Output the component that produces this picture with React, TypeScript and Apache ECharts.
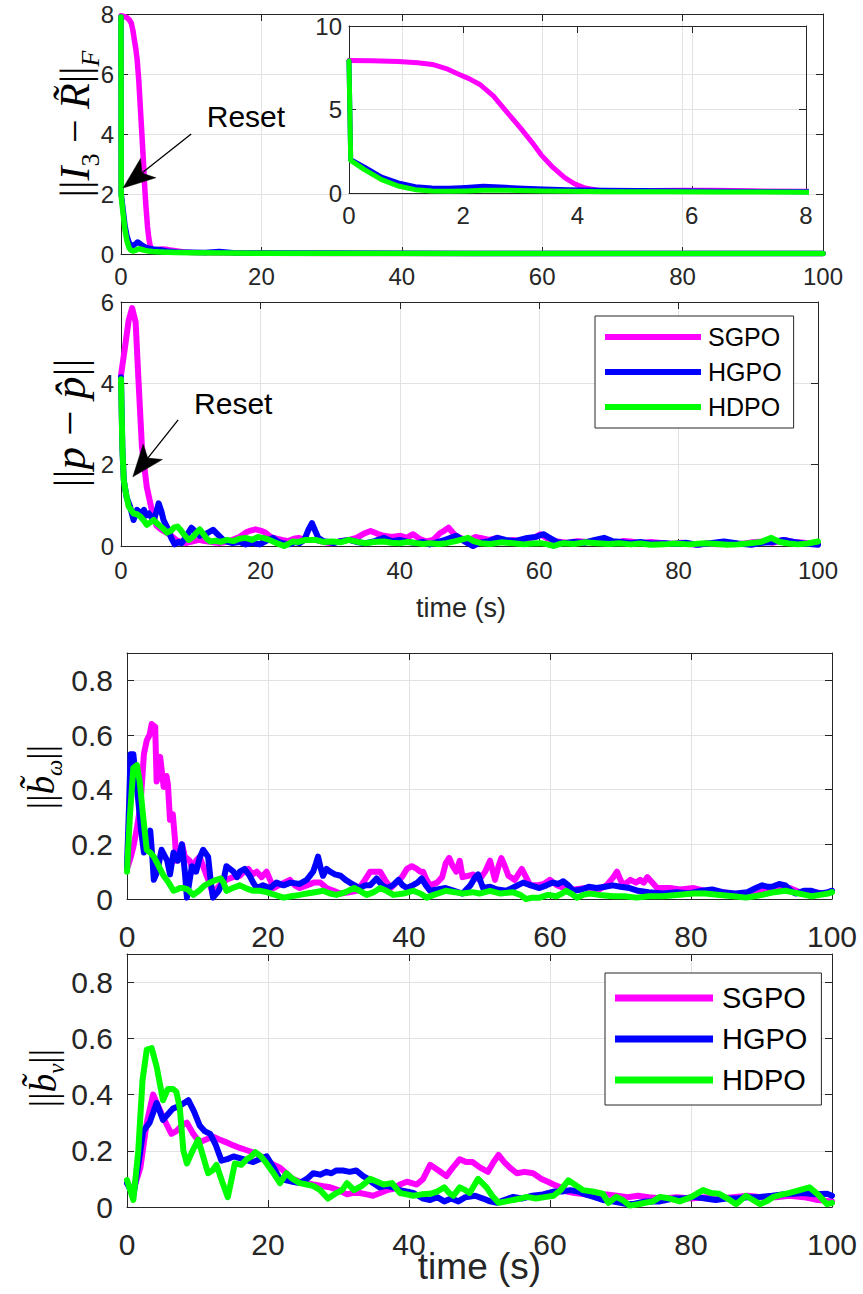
import React, { useEffect, useRef } from 'react';
import * as echarts from 'echarts';

type Pt = [number, number];

const FONT = "'Liberation Sans', Arial, Helvetica, sans-serif";
const SERIF = "'Liberation Serif', 'DejaVu Serif', serif";
const AXIS_COLOR = '#262626';
const GRID_COLOR = '#e2e2e2';

const seriesNames = ['SGPO', 'HGPO', 'HDPO'];
const seriesColors = ['#ff00ff', '#0000ff', '#00ff00'];

// ---------- Panel 1: ||I3 - R~||_F ----------
const rotSGPO: Pt[] = [[0,7.94],[0.4,7.92],[0.86,7.88],[1.2,7.8],[1.46,7.7],[1.7,7.45],[1.93,7.1],[2.1,6.85],[2.29,6.5],[2.53,5.8],[2.75,4.9],[3.0,3.9],[3.2,3.05],[3.36,2.3],[3.55,1.6],[3.78,0.9],[3.95,0.55],[4.13,0.3],[4.43,0.12],[4.8,0.1],[5.3,0.15],[5.8,0.17],[6.4,0.16],[7,0.13],[8,0.1],[9,0.07],[10,0.05],[12,0.04],[15,0.03],[20,0.025],[30,0.02],[50,0.02],[75,0.015],[100,0.015]];
const rotHGPO: Pt[] = [[0,7.9],[0.03,2.0],[0.27,1.55],[0.57,0.95],[0.86,0.6],[1.16,0.38],[1.45,0.3],[1.75,0.28],[2.05,0.33],[2.35,0.4],[2.65,0.36],[2.95,0.3],[3.4,0.24],[3.84,0.2],[4.5,0.17],[5.6,0.14],[6.5,0.1],[8,0.07],[10,0.06],[12,0.05],[14,0.08],[16,0.04],[20,0.03],[30,0.03],[50,0.02],[75,0.02],[100,0.015]];
const rotHDPO: Pt[] = [[0,7.9],[0.03,1.95],[0.27,1.4],[0.57,0.8],[0.86,0.42],[1.16,0.2],[1.45,0.12],[1.75,0.1],[2.05,0.12],[2.35,0.16],[2.65,0.17],[2.95,0.15],[3.4,0.12],[3.84,0.1],[4.5,0.08],[5.6,0.07],[6.5,0.06],[8,0.05],[10,0.04],[15,0.03],[20,0.025],[50,0.02],[100,0.015]];

// ---------- Panel 2: ||p - p^|| ----------
const posSGPO: Pt[] = [[0,4.2],[0.5,4.8],[1.1,5.55],[1.6,5.85],[2.1,5.5],[2.5,4.1],[3,2.45],[3.7,1.45],[4.4,0.9],[5.1,0.5],[5.8,0.4],[6.5,0.33],[7.2,0.25],[7.9,0.15],[8.6,0.1],[9.3,0.07],[10,0.1],[11.2,0.15],[12,0.12],[13,0.1],[14.1,0.07],[15,0.1],[16,0.15],[17,0.22],[17.9,0.33],[18.6,0.38],[19.3,0.41],[20,0.38],[20.7,0.33],[21.5,0.22],[22.3,0.18],[23.1,0.15],[24,0.12],[24.8,0.18],[25.5,0.2],[26.5,0.15],[27.9,0.15],[29,0.1],[30.3,0.07],[31.5,0.12],[32.7,0.15],[33.8,0.2],[34.8,0.3],[35.8,0.37],[36.8,0.3],[37.7,0.25],[38.8,0.22],[40.1,0.25],[41,0.2],[41.9,0.29],[42.8,0.18],[43.8,0.11],[44.8,0.15],[45.8,0.32],[46.4,0.38],[47,0.45],[47.5,0.35],[48,0.25],[49,0.18],[50,0.15],[50.8,0.22],[51.6,0.2],[52.8,0.15],[54,0.2],[55.2,0.12],[56.3,0.15],[57.5,0.1],[58.5,0.18],[59.4,0.22],[60.2,0.29],[61,0.2],[61.8,0.15],[62.6,0.11],[64,0.08],[65.5,0.12],[67,0.1],[68.3,0.15],[69.5,0.1],[71,0.08],[72,0.12],[73.1,0.11],[74.5,0.07],[76,0.1],[77.9,0.07],[79,0.05],[80.5,0.08],[81.5,0.05],[82.7,0.03],[84,0.06],[85.5,0.04],[87.5,0.07],[89,0.05],[90.5,0.09],[92.3,0.11],[93.5,0.08],[95.1,0.15],[96.5,0.1],[98,0.08],[99,0.05],[100,0.07]];
const posHGPO: Pt[] = [[0,4.15],[0.2,2.4],[0.4,1.62],[0.8,1.2],[1.3,0.97],[1.8,0.64],[2.3,0.89],[2.8,0.8],[3.3,0.89],[3.6,0.75],[4,0.8],[4.4,0.7],[4.7,0.64],[5.1,0.85],[5.4,1.05],[5.8,0.85],[6.1,0.64],[6.8,0.4],[7.2,0.2],[7.7,0.04],[8.2,0.1],[8.7,0.07],[9.4,0.25],[10.1,0.45],[10.7,0.35],[11.3,0.25],[12.2,0.3],[13.2,0.4],[13.9,0.28],[14.6,0.16],[15.3,0.1],[16,0.07],[17,0.1],[17.9,0.04],[18.8,0.08],[19.9,0.04],[20.8,0.12],[21.8,0.2],[22.6,0.1],[23.4,0.06],[24.2,0.04],[25,0.1],[25.6,0.07],[26.3,0.15],[26.9,0.4],[27.4,0.56],[27.8,0.4],[28.3,0.2],[29,0.12],[29.8,0.1],[30.5,0.07],[31.5,0.12],[32.7,0.15],[33.8,0.1],[35.1,0.07],[36.4,0.12],[37.7,0.2],[38.8,0.12],[40,0.15],[41.2,0.1],[42.4,0.07],[43.3,0.1],[44.3,0.04],[45.5,0.1],[46.5,0.15],[48.1,0.25],[49.2,0.12],[50.5,0.0],[51.5,0.08],[52.8,0.12],[54,0.2],[55.2,0.15],[56.5,0.12],[58.3,0.2],[59.5,0.22],[60.6,0.29],[61.5,0.2],[62.5,0.1],[63.5,0.07],[65,0.1],[66.5,0.08],[68,0.15],[69.3,0.2],[70.5,0.12],[71.8,0.1],[73.1,0.07],[74.5,0.1],[76,0.06],[77.9,0.07],[79.5,0.05],[81,0.08],[82.7,0.03],[84.5,0.07],[86.5,0.11],[88.5,0.06],[90.4,0.03],[92,0.08],[93.5,0.1],[95.1,0.15],[96.5,0.1],[98,0.06],[100,0.03]];
const posHDPO: Pt[] = [[0,4.1],[0.2,2.4],[0.4,1.62],[0.7,1.3],[1.1,0.97],[1.8,0.8],[2.3,0.78],[2.8,0.72],[3.3,0.62],[3.7,0.52],[4.2,0.58],[4.7,0.64],[5.2,0.55],[5.7,0.48],[6.1,0.42],[6.6,0.33],[7.2,0.38],[7.6,0.45],[8.1,0.48],[8.6,0.38],[9.2,0.25],[9.7,0.15],[10.3,0.22],[10.8,0.32],[11.3,0.41],[11.8,0.3],[12.3,0.18],[12.8,0.11],[13.5,0.13],[14.3,0.1],[15.2,0.15],[16.1,0.12],[17,0.18],[17.9,0.2],[18.8,0.15],[19.6,0.22],[20.4,0.2],[21.3,0.15],[22.3,0.07],[23.4,0.0],[24,0.05],[24.6,0.11],[25.5,0.1],[26.5,0.15],[27.9,0.15],[29,0.1],[30.3,0.11],[31.5,0.09],[32.7,0.15],[34,0.1],[35,0.07],[36.3,0.1],[37.7,0.11],[38.8,0.08],[40,0.07],[41.2,0.1],[42.4,0.07],[43.3,0.05],[44.3,0.07],[45.5,0.05],[46.7,0.07],[48,0.12],[49.8,0.2],[50.6,0.12],[51.6,0.07],[53,0.05],[54.5,0.09],[56.3,0.07],[57.8,0.04],[59,0.06],[60.2,0.07],[61.2,0.04],[62.1,0.0],[63,0.05],[63.5,0.07],[65,0.05],[66.5,0.09],[68.3,0.07],[70,0.05],[71.5,0.07],[73.1,0.04],[74.5,0.06],[76,0.03],[77.9,0.04],[79.5,0.06],[81.5,0.04],[83.7,0.07],[85.5,0.05],[87,0.03],[88.5,0.04],[90.2,0.07],[91.8,0.1],[93.3,0.2],[94.5,0.1],[95.8,0.06],[97.1,0.04],[98.5,0.06],[100,0.11]];

// ---------- Panel 3: ||b~_w|| ----------
const bwSGPO: Pt[] = [[0,0.11],[0.5,0.15],[0.9,0.19],[1.4,0.26],[1.9,0.34],[2.4,0.53],[2.8,0.58],[3.2,0.6],[3.5,0.64],[4,0.63],[4.2,0.43],[4.5,0.46],[4.7,0.52],[5.2,0.41],[5.6,0.45],[5.8,0.42],[6.1,0.29],[6.5,0.31],[6.8,0.22],[7,0.14],[7.4,0.17],[7.8,0.2],[8.2,0.155],[8.9,0.14],[9.4,0.1],[9.8,0.14],[10.3,0.155],[10.8,0.12],[11.3,0.085],[11.8,0.05],[12.2,0.015],[12.8,0.04],[13.5,0.06],[14.1,0.07],[15,0.08],[16,0.085],[16.6,0.1],[17.2,0.11],[17.8,0.09],[18.4,0.1],[19.1,0.08],[19.8,0.1],[20.3,0.07],[20.8,0.04],[21.5,0.05],[22.3,0.06],[23.1,0.07],[23.8,0.05],[24.5,0.04],[25.5,0.05],[26.5,0.06],[27.4,0.06],[28.3,0.04],[29.3,0.03],[30.3,0.02],[31.5,0.025],[32.6,0.03],[33.5,0.06],[34.5,0.1],[35.2,0.1],[35.9,0.1],[36.6,0.07],[37.4,0.04],[38.2,0.06],[39,0.08],[39.7,0.11],[40.4,0.12],[41.1,0.11],[41.6,0.1],[42,0.1],[42.5,0.07],[43,0.05],[44,0.06],[44.7,0.08],[45.2,0.13],[45.7,0.15],[46.2,0.12],[46.7,0.1],[47.2,0.14],[47.6,0.08],[48.4,0.085],[49.1,0.09],[50,0.07],[50.8,0.1],[51.5,0.14],[52.2,0.07],[52.7,0.12],[53.1,0.15],[53.6,0.12],[54.1,0.085],[55,0.07],[56,0.11],[56.6,0.08],[57.2,0.05],[58.2,0.05],[59.1,0.055],[60,0.07],[61,0.05],[61.9,0.04],[63.5,0.035],[65,0.04],[66.6,0.03],[68,0.05],[69,0.08],[69.5,0.1],[70,0.07],[70.4,0.05],[71.4,0.07],[72.2,0.06],[72.8,0.07],[73.3,0.06],[73.8,0.08],[74.5,0.06],[75.2,0.04],[77,0.04],[78.5,0.035],[80.4,0.04],[82,0.03],[83.2,0.02],[84.5,0.025],[85.6,0.02],[87,0.015],[88.4,0.01],[89.5,0.02],[90.3,0.03],[92,0.035],[94,0.04],[95.9,0.02],[97.5,0.025],[99,0.02],[100,0.03]];
const bwHGPO: Pt[] = [[0,0.12],[0.3,0.35],[0.5,0.53],[0.9,0.53],[1.2,0.45],[1.6,0.36],[2,0.25],[2.4,0.17],[2.8,0.2],[3.3,0.25],[3.6,0.15],[3.8,0.07],[4.3,0.1],[4.9,0.18],[5.3,0.16],[5.7,0.14],[6.1,0.09],[6.6,0.17],[7.2,0.14],[7.8,0.2],[8.2,0.1],[8.5,0.005],[9.2,0.12],[9.8,0.1],[10.3,0.15],[10.8,0.18],[11.5,0.155],[11.9,0.06],[12.2,0.005],[13,0.03],[13.7,0.07],[14.1,0.12],[14.6,0.11],[15.1,0.1],[15.6,0.08],[16,0.1],[16.7,0.11],[17.4,0.085],[17.9,0.06],[18.4,0.04],[19.3,0.05],[20.3,0.04],[21.2,0.06],[22.2,0.05],[23.2,0.06],[24.5,0.055],[25.5,0.07],[26.4,0.1],[26.8,0.13],[27.1,0.155],[27.5,0.11],[27.8,0.085],[28.3,0.11],[28.8,0.1],[29.5,0.09],[30.3,0.085],[31,0.07],[31.6,0.06],[32.3,0.05],[33,0.04],[33.8,0.05],[34.5,0.05],[35.4,0.075],[36.2,0.05],[36.9,0.04],[37.7,0.05],[38.5,0.07],[39.1,0.05],[39.7,0.04],[40.5,0.05],[41.2,0.06],[41.8,0.075],[42.4,0.05],[43,0.03],[44,0.035],[45.2,0.04],[46.4,0.03],[47.6,0.02],[48.7,0.05],[49.4,0.08],[49.8,0.09],[50.5,0.04],[51.5,0.045],[52.5,0.035],[53.8,0.03],[55,0.045],[56.2,0.06],[57.3,0.05],[58.5,0.04],[59.5,0.05],[60.4,0.06],[61.2,0.055],[61.9,0.065],[62.6,0.05],[63.3,0.03],[64.5,0.035],[65.5,0.045],[66.6,0.04],[67.8,0.045],[68.9,0.05],[70,0.045],[71.3,0.04],[72.5,0.03],[74,0.025],[76,0.02],[78,0.025],[79.7,0.02],[81.5,0.03],[83,0.035],[84.5,0.025],[86.3,0.02],[88,0.025],[89.2,0.04],[90.1,0.05],[90.8,0.045],[91.5,0.045],[92.5,0.055],[93.4,0.05],[94.2,0.03],[94.8,0.02],[96,0.03],[97.1,0.03],[98.3,0.02],[99.5,0.025],[100,0.03]];
const bwHDPO: Pt[] = [[0,0.1],[0.4,0.3],[0.9,0.48],[1.4,0.49],[1.8,0.43],[2.3,0.3],[2.8,0.18],[3.3,0.17],[3.8,0.155],[4.5,0.12],[5.2,0.085],[5.9,0.06],[6.6,0.03],[7.1,0.035],[7.5,0.04],[8,0.04],[8.6,0.035],[9.4,0.015],[10.2,0.03],[11,0.05],[11.8,0.06],[12.7,0.07],[13.3,0.075],[13.7,0.06],[14.1,0.03],[15,0.04],[16,0.05],[16.8,0.04],[17.9,0.03],[18.8,0.03],[19.8,0.025],[21,0.015],[22.2,0.005],[23.3,0.01],[24.5,0.015],[25.5,0.02],[26.7,0.025],[27.8,0.03],[28.8,0.02],[29.7,0.015],[31,0.025],[32.2,0.04],[33,0.03],[34,0.015],[35,0.025],[35.9,0.04],[36.8,0.03],[37.8,0.015],[39.2,0.02],[40.6,0.03],[41.6,0.02],[42.5,0.005],[43.5,0.015],[45.2,0.03],[46.5,0.025],[47.6,0.02],[49,0.025],[50,0.02],[51.5,0.03],[53,0.02],[54.7,0.025],[55.8,0.015],[56.6,0.0],[57.5,0.005],[58.5,0.005],[59.7,0.015],[60.9,0.01],[61.7,0.02],[62.3,0.03],[63,0.02],[63.8,0.005],[64.7,0.015],[65.6,0.02],[67,0.015],[69,0.01],[70.5,0.01],[72.3,0.005],[74,0.01],[76,0.01],[78,0.015],[80.3,0.02],[82,0.02],[84.1,0.015],[86,0.01],[87.8,0.005],[89,0.01],[90.1,0.015],[91.8,0.025],[93.4,0.03],[94.3,0.025],[95.3,0.02],[96.2,0.015],[97.1,0.01],[98.3,0.015],[99.5,0.02],[100,0.025]];

// ---------- Panel 4: ||b~_v|| ----------
const bvSGPO: Pt[] = [[0,0.085],[0.9,0.06],[1.9,0.14],[2.8,0.3],[3.7,0.4],[4.4,0.36],[5.1,0.32],[5.7,0.29],[6.3,0.26],[7,0.27],[7.8,0.29],[8.5,0.3],[9.4,0.26],[10.3,0.23],[11.2,0.24],[12.2,0.25],[13.1,0.24],[14.1,0.23],[15,0.22],[16,0.21],[17.2,0.2],[18.4,0.19],[19.6,0.17],[20.8,0.15],[21.7,0.14],[22.6,0.12],[23.5,0.1],[24.5,0.09],[25.5,0.085],[26.4,0.08],[27.6,0.075],[28.8,0.07],[30,0.06],[31.2,0.045],[32.1,0.05],[33,0.05],[34,0.045],[34.9,0.04],[35.9,0.05],[36.9,0.06],[37.8,0.065],[38.7,0.08],[39.7,0.09],[40.4,0.085],[41.1,0.08],[42,0.1],[43,0.15],[44.2,0.13],[45.3,0.11],[46.2,0.14],[47.2,0.17],[48.1,0.16],[49,0.16],[50.1,0.14],[51.2,0.125],[52,0.16],[52.7,0.185],[53.5,0.16],[54.3,0.14],[55.3,0.12],[56.4,0.125],[57.6,0.12],[58.8,0.1],[59.7,0.09],[60.5,0.08],[61.5,0.07],[62.4,0.055],[63.5,0.05],[65,0.045],[66.5,0.04],[68,0.045],[69.5,0.04],[71,0.035],[72.5,0.04],[74,0.035],[76,0.03],[78,0.035],[80,0.03],[82,0.035],[84,0.03],[86,0.035],[88,0.04],[90,0.035],[92,0.035],[94,0.04],[96,0.035],[98,0.025],[100,0.02]];
const bvHGPO: Pt[] = [[0,0.085],[0.9,0.04],[1.6,0.15],[2.3,0.27],[3.2,0.3],[4.2,0.37],[5.1,0.31],[5.8,0.33],[6.5,0.35],[7.5,0.36],[8.7,0.38],[9.5,0.34],[10.3,0.29],[11,0.27],[11.8,0.26],[12.6,0.22],[13.4,0.165],[14.2,0.17],[15.1,0.18],[16.5,0.17],[17.9,0.16],[18.8,0.17],[19.8,0.18],[20.8,0.14],[21.7,0.1],[22.6,0.095],[23.5,0.09],[24.5,0.085],[25.5,0.1],[26.4,0.12],[27.4,0.115],[28.3,0.125],[29,0.12],[29.7,0.13],[30.6,0.13],[31.6,0.125],[32.5,0.13],[33.5,0.11],[34.2,0.1],[34.9,0.085],[35.8,0.07],[36.8,0.075],[37.7,0.07],[38.7,0.06],[39.6,0.055],[40.6,0.05],[41.3,0.04],[42,0.03],[43,0.025],[44,0.035],[45,0.02],[46,0.03],[47,0.02],[48,0.035],[49.4,0.04],[50.5,0.03],[51.5,0.02],[52.5,0.015],[53.5,0.025],[54.8,0.036],[56,0.03],[57.5,0.04],[59,0.045],[60.5,0.055],[61.7,0.055],[62.9,0.06],[64,0.055],[65,0.045],[66.2,0.036],[67.5,0.025],[68.8,0.02],[70,0.015],[70.9,0.01],[72,0.012],[73.5,0.02],[75.6,0.02],[77.5,0.03],[79,0.03],[80.4,0.036],[82,0.03],[83.5,0.025],[85,0.03],[86.5,0.03],[88,0.035],[89.8,0.036],[91.5,0.04],[93,0.045],[94.5,0.047],[96,0.05],[97.5,0.045],[99.3,0.047],[100,0.04]];
const bvHDPO: Pt[] = [[0,0.096],[0.9,0.025],[1.6,0.2],[2.2,0.45],[2.8,0.56],[3.5,0.565],[4.2,0.5],[5.1,0.38],[5.8,0.42],[6.5,0.42],[7,0.41],[7.5,0.35],[8,0.2],[8.5,0.155],[9.3,0.2],[10.1,0.24],[10.8,0.18],[11.5,0.12],[12.1,0.13],[12.7,0.15],[13.5,0.09],[14.3,0.035],[15.3,0.155],[16.2,0.15],[17,0.17],[17.6,0.18],[18.2,0.195],[19,0.18],[19.8,0.155],[20.8,0.12],[21.7,0.085],[22.6,0.12],[23.5,0.1],[24.5,0.085],[25.5,0.08],[26.4,0.075],[27.4,0.06],[28.5,0.03],[29.7,0.05],[30.5,0.06],[31.2,0.085],[32.2,0.06],[33.3,0.075],[34.5,0.1],[35.5,0.09],[36.4,0.08],[37.6,0.085],[38.7,0.05],[39.7,0.045],[40.6,0.04],[41.8,0.045],[43,0.047],[44,0.055],[45,0.07],[45.7,0.05],[46.3,0.04],[47.2,0.07],[48,0.06],[48.6,0.05],[49.8,0.1],[50.4,0.085],[51,0.07],[51.8,0.04],[52.7,0.015],[53.8,0.02],[54.8,0.025],[55.8,0.03],[56.7,0.036],[58,0.03],[59.5,0.036],[60.5,0.04],[61.5,0.06],[62.6,0.095],[63.5,0.08],[64.7,0.06],[66,0.055],[67.5,0.047],[68.3,0.015],[69.4,0.036],[70.3,0.025],[71.3,0.005],[72.5,0.01],[73.5,0.015],[74.6,0.02],[75.6,0.036],[77,0.03],[78.4,0.02],[80,0.035],[81.7,0.06],[82.8,0.05],[84,0.047],[85.2,0.03],[86.4,0.01],[87.8,0.04],[88.8,0.025],[89.8,0.01],[90.7,0.02],[91.7,0.036],[93,0.045],[94,0.05],[95.4,0.06],[96.8,0.07],[98,0.045],[99.3,0.01],[100,0.015]];

// Annotation anchors (data coordinates of each panel)
const resetNotes = [
  { gridIndex: 0, tip: [0.3, 2.2], tail: [10, 4.0], text: [17.8, 4.57] },
  { gridIndex: 2, tip: [1.7, 1.7], tail: [8.2, 3.1], text: [16.1, 3.5] },
];

// ---------- Layout of the panels ----------
interface Panel {
  rect: { left: number; top: number; width: number; height: number };
  x: [number, number, number];
  y: [number, number, number];
  fs: number;
  xm: number;
  ym: number;
  data: Pt[][];
  lw: number;
  inset?: boolean;
  xName?: { gap: number; fs: number; pad?: number[] };
}

const panels: Panel[] = [
  { rect: { left: 121, top: 14, width: 702, height: 240 }, x: [0, 100, 20], y: [0, 8, 2], fs: 24, xm: 10, ym: 7, data: [rotSGPO, rotHGPO, rotHDPO], lw: 5.5 },
  { rect: { left: 349, top: 26, width: 457, height: 167 }, x: [0, 8, 2], y: [0, 10, 5], fs: 24, xm: 10, ym: 7, data: [rotSGPO, rotHGPO, rotHDPO], lw: 5 },
  { rect: { left: 121, top: 302, width: 697, height: 244 }, x: [0, 100, 20], y: [0, 6, 2], fs: 24, xm: 12, ym: 7, data: [posSGPO, posHGPO, posHDPO], lw: 6, xName: { gap: 48, fs: 27, pad: [0, 17, 0, 0] } },
  { rect: { left: 127, top: 653, width: 705, height: 246 }, x: [0, 100, 20], y: [0, 0.9, 0.2], fs: 30, xm: 22, ym: 14, data: [bwSGPO, bwHGPO, bwHDPO], lw: 6 },
  { rect: { left: 127, top: 954, width: 705, height: 253 }, x: [0, 100, 20], y: [0, 0.9, 0.2], fs: 30, xm: 22, ym: 14, data: [bvSGPO, bvHGPO, bvHDPO], lw: 6, xName: { gap: 41, fs: 37 } },
];

function buildOption() {
  const grid: any[] = [];
  const xAxis: any[] = [];
  const yAxis: any[] = [];
  const series: any[] = [];
  panels.forEach((p, i) => {
    const z = p.inset ? 6 : 0;
    grid.push({
      ...p.rect,
      outerBoundsMode: 'none',
      containLabel: false,
      show: !!p.inset,
      backgroundColor: '#ffffff',
      borderWidth: 0,
      z: p.inset ? 5 : 0,
    });
    const line = { show: true, onZero: false, lineStyle: { color: AXIS_COLOR, width: 1 } };
    const tick = { show: true, inside: true, length: 7, lineStyle: { color: AXIS_COLOR, width: 1 } };
    const split = { show: true, showMinLine: false, showMaxLine: false, lineStyle: { color: GRID_COLOR, width: 1 } };
    const lbl = { color: AXIS_COLOR, fontFamily: FONT, fontSize: p.fs };
    xAxis.push({
      type: 'value', gridIndex: i, position: 'bottom', z,
      min: p.x[0], max: p.x[1], interval: p.x[2],
      axisLine: line, axisTick: tick, splitLine: split,
      axisLabel: { ...lbl, margin: p.xm },
      ...(p.xName ? {
        name: 'time (s)', nameLocation: 'middle', nameGap: p.xName.gap, nameMoveOverlap: false,
        nameTextStyle: { color: AXIS_COLOR, fontFamily: FONT, fontSize: p.xName.fs, padding: p.xName.pad || 0 },
      } : {}),
    });
    xAxis.push({
      type: 'value', gridIndex: i, position: 'top', z,
      min: p.x[0], max: p.x[1], interval: p.x[2],
      axisLine: line, axisTick: tick, splitLine: { show: false }, axisLabel: { show: false },
    });
    yAxis.push({
      type: 'value', gridIndex: i, position: 'left', z,
      min: p.y[0], max: p.y[1], interval: p.y[2],
      axisLine: line, axisTick: tick, splitLine: split,
      axisLabel: { ...lbl, margin: p.ym, showMaxLabel: p.y[1] / p.y[2] === Math.round(p.y[1] / p.y[2]) },
    });
    yAxis.push({
      type: 'value', gridIndex: i, position: 'right', z,
      min: p.y[0], max: p.y[1], interval: p.y[2],
      axisLine: line, axisTick: tick, splitLine: { show: false }, axisLabel: { show: false },
    });
    p.data.forEach((d, k) => {
      series.push({
        type: 'line', name: seriesNames[k], data: d,
        xAxisIndex: 2 * i, yAxisIndex: 2 * i,
        showSymbol: false, symbol: 'none', smooth: false, clip: true,
        color: seriesColors[k],
        lineStyle: { color: seriesColors[k], width: p.lw, join: 'round', cap: 'round' },
        z: p.inset ? 7 : 2,
        silent: true,
      });
    });
  });

  const legendBase = {
    orient: 'vertical', data: seriesNames, icon: 'rect',
    borderColor: AXIS_COLOR, borderWidth: 1, backgroundColor: '#ffffff',
    selectedMode: false, z: 20,
  };
  const legend = [
    { ...legendBase, left: 595, top: 316, itemWidth: 96, itemHeight: 6, itemGap: 7, padding: [7, 12, 7, 10],
      textStyle: { color: '#000', fontFamily: FONT, fontSize: 25, lineHeight: 28, padding: [0, 0, 0, 2] } },
    { ...legendBase, left: 605, top: 973, itemWidth: 98, itemHeight: 7, itemGap: 9, padding: [9, 14, 9, 10],
      textStyle: { color: '#000', fontFamily: FONT, fontSize: 29, lineHeight: 32, padding: [0, 0, 0, 4] } },
  ];

  return {
    animation: false,
    backgroundColor: '#ffffff',
    textStyle: { fontFamily: FONT },
    grid, xAxis, yAxis, series, legend,
  };
}

function yLabelRich(fs: number) {
  const sub = Math.round(fs * 0.62);
  const lh = Math.round(fs * 1.35);
  return {
    b: { fontFamily: SERIF, fontSize: fs, lineHeight: lh, verticalAlign: 'middle', fill: '#000' },
    i: { fontFamily: SERIF, fontStyle: 'italic', fontSize: fs, lineHeight: lh, verticalAlign: 'middle', fill: '#000' },
    s: { fontFamily: SERIF, fontSize: sub, lineHeight: sub, verticalAlign: 'bottom', fill: '#000' },
    si: { fontFamily: SERIF, fontStyle: 'italic', fontSize: sub, lineHeight: sub, verticalAlign: 'bottom', fill: '#000' },
  };
}

const yLabels = [
  { x: 75, y: 124, fs: 42, text: '{b|||}{i|I}{s|3}{b| − }{i|R\u0303}{b|||}{si|F}' },
  { x: 70, y: 423, fs: 45, text: '{b|||}{i|p}{b| − }{i|p\u0302}{b|||}' },
  { x: 41, y: 777, fs: 37, text: '{b|||}{i|b\u0303}{si|ω}{b|||}' },
  { x: 43, y: 1078, fs: 37, text: '{b|||}{i|b\u0303}{si|v}{b|||}' },
];

function arrowParts(tip: number[], tail: number[]) {
  const dx = tail[0] - tip[0];
  const dy = tail[1] - tip[1];
  const L = Math.hypot(dx, dy);
  const ux = dx / L, uy = dy / L;
  const nx = -uy, ny = ux;
  const hl = 32, hw = 12.3, notch = 24;
  const b1 = [tip[0] + ux * hl + nx * hw, tip[1] + uy * hl + ny * hw];
  const b2 = [tip[0] + ux * hl - nx * hw, tip[1] + uy * hl - ny * hw];
  const nt = [tip[0] + ux * notch, tip[1] + uy * notch];
  return [
    { type: 'line', z: 30, shape: { x1: tail[0], y1: tail[1], x2: nt[0], y2: nt[1] }, style: { stroke: '#000', lineWidth: 1.3 } },
    { type: 'polygon', z: 30, shape: { points: [tip, b1, nt, b2] }, style: { fill: '#000', stroke: '#000', lineWidth: 0.5 } },
  ];
}

export default function App() {
  const ref = useRef<HTMLDivElement>(null);
  useEffect(() => {
    document.body.style.margin = '0';
    const chart = echarts.init(ref.current!, null, { renderer: 'svg' });
    chart.setOption(buildOption() as any);

    const elements: any[] = [];
    yLabels.forEach((l) => {
      elements.push({
        type: 'text', x: l.x, y: l.y, rotation: Math.PI / 2, z: 30,
        style: { text: l.text, rich: yLabelRich(l.fs), align: 'center', verticalAlign: 'middle' },
      });
    });
    resetNotes.forEach((n) => {
      const tip = chart.convertToPixel({ gridIndex: n.gridIndex } as any, n.tip) as number[];
      const tail = chart.convertToPixel({ gridIndex: n.gridIndex } as any, n.tail) as number[];
      const tp = chart.convertToPixel({ gridIndex: n.gridIndex } as any, n.text) as number[];
      elements.push(...arrowParts(tip, tail));
      elements.push({
        type: 'text', x: tp[0], y: tp[1], z: 30,
        style: { text: 'Reset', fontFamily: FONT, fontSize: 30, fill: '#000', align: 'center', verticalAlign: 'middle' },
      });
    });
    chart.setOption({ graphic: { elements } } as any);

    return () => chart.dispose();
  }, []);
  return <div ref={ref} style={{ width: 863, height: 1294 }} />;
}
